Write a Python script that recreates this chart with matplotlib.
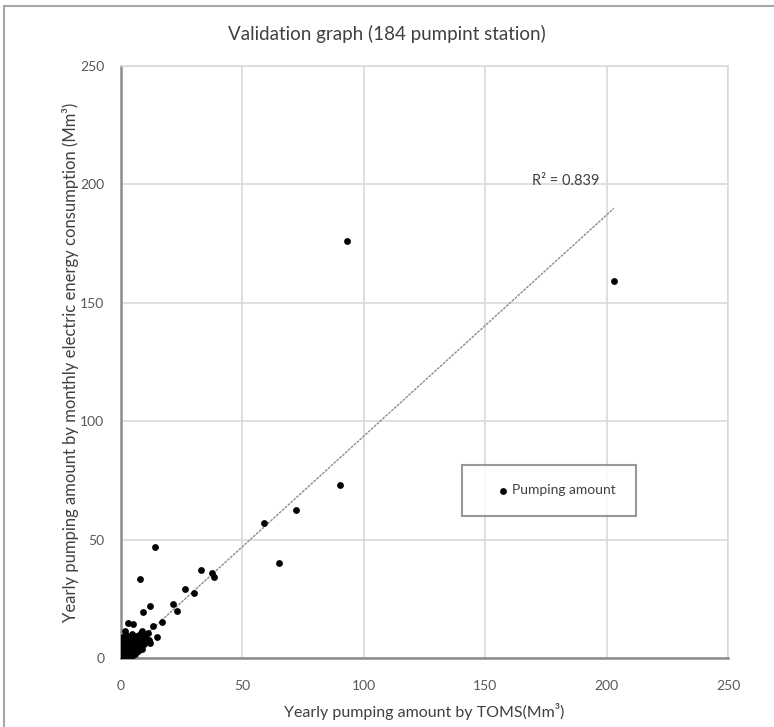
import numpy as np
import matplotlib
matplotlib.use("Agg")
from matplotlib import pyplot as plt
from matplotlib.patches import Rectangle

# TOMS estimate (x) vs electric-energy based estimate (y), Mm3
toms = [93, 203, 90, 72, 59, 65, 33, 37.5, 38.5, 26.5, 30, 21.5, 23, 14, 8, 9, 12,
        17, 13, 15, 11, 8.5, 3, 5, 1,
        0.5, 0.8, 1.2, 1.5, 2.0, 0.3, 1.0, 2.5, 3.0, 0.6, 1.8, 2.2, 3.5, 4.0, 3.2,
        4.5, 5.0, 1.0, 2.6, 4.2, 5.5, 6.0, 6.5, 3.8, 5.2, 7.0, 7.5, 8.0, 9.0, 6.2,
        4.5, 2.0, 7.8, 10.0, 1.5, 0.2, 0.4, 1.0, 2.8, 1.6, 0.9, 3.6, 5.8, 2.3, 6.8,
        4.8, 8.5, 11.5, 12.0, 9.5, 0.7, 1.3, 2.1, 3.3, 0.1, 0.9, 1.9, 4.1, 2.7, 5.6]
energy = [176, 159, 73, 62.5, 57, 40, 37, 36, 34.3, 29, 27.4, 22.8, 20, 47, 33.4, 19.4, 22,
          15, 13.5, 9, 10.5, 11.5, 14.8, 14.4, 9,
          0.3, 1.2, 0.5, 2.0, 1.0, 2.5, 3.5, 2.8, 1.5, 4.8, 5.5, 4.0, 3.2, 2.2, 5.0,
          4.5, 3.0, 7.0, 6.8, 6.5, 5.5, 4.0, 6.2, 8.0, 8.2, 7.5, 5.0, 6.8, 8.0, 9.5,
          10.2, 9.8, 10.0, 9.5, 11.2, 0.8, 1.8, 0.2, 0.4, 3.0, 5.8, 0.8, 1.8, 7.8, 3.0,
          1.2, 4.0, 7.5, 6.5, 6.0, 0.1, 0.6, 0.2, 2.0, 1.5, 2.2, 3.9, 1.0, 4.5, 2.4]

# Excel linear trendline
trend_slope = 0.934
trend_icept = 0.3
trend_x = [0, 203]
r2_text = "R² = 0.839"

ticks = [0, 50, 100, 150, 200, 250]

plt.rcParams['font.family'] = ['Lato', 'DejaVu Sans']

fig = plt.figure(figsize=(7.74, 7.27), dpi=100)
ax = fig.add_axes([121/774, 1 - 658/727, 607/774, 592/727])

# outer chart frame (only top/left visible in the crop)
fig.patches.append(Rectangle((4/774, -0.1), 1.2, 1.1 - 6/727, transform=fig.transFigure,
                             fill=False, edgecolor='#a6a6a6', linewidth=1.5))

ax.scatter(toms, energy, s=24, color='black', zorder=3, label='Pumping amount',
           linewidths=0)
tx = np.array(trend_x, dtype=float)
ax.plot(tx, trend_slope * tx + trend_icept, color='#8c8c8c', linewidth=1.0,
        linestyle=(0, (2, 0.8)), zorder=2)
ax.text(197, 201.5, r2_text, ha='right', va='center', fontsize=10.5, color='#404040')

ax.set_xlim(0, 250)
ax.set_ylim(0, 250)
ax.set_xticks(ticks)
ax.set_yticks(ticks)
ax.grid(True, color='#d9d9d9', linewidth=1.2)
ax.set_axisbelow(True)
for s in ['top', 'right']:
    ax.spines[s].set_color('#d9d9d9')
    ax.spines[s].set_linewidth(1.2)
for s in ['left', 'bottom']:
    ax.spines[s].set_color('#8c8c8c')
    ax.spines[s].set_linewidth(1.8)
ax.tick_params(length=0, labelsize=10, labelcolor='#595959')
ax.tick_params(axis='x', pad=16)
ax.tick_params(axis='y', pad=12)

fig.suptitle('Validation graph (184 pumpint station)', x=0.5, y=1 - 34/727, va='center',
             fontsize=13.5, color='#404040')
ax.set_xlabel('Yearly pumping amount by TOMS(Mm³)', fontsize=11.5, color='#404040', labelpad=8)
ax.set_ylabel('Yearly pumping amount by monthly electric energy consumption (Mm³)',
              fontsize=12, color='#404040', labelpad=1)

leg = ax.legend(loc='center', bbox_to_anchor=(0.705, 0.283), frameon=True, fancybox=False,
                fontsize=10, borderpad=1.4, handletextpad=-0.9, markerscale=1.0,
                handlelength=3.1)
leg.get_frame().set_edgecolor('#7f7f7f')
leg.get_frame().set_linewidth(1.5)
for t in leg.get_texts():
    t.set_color('#404040')

fig.savefig('out.png', dpi=100)
